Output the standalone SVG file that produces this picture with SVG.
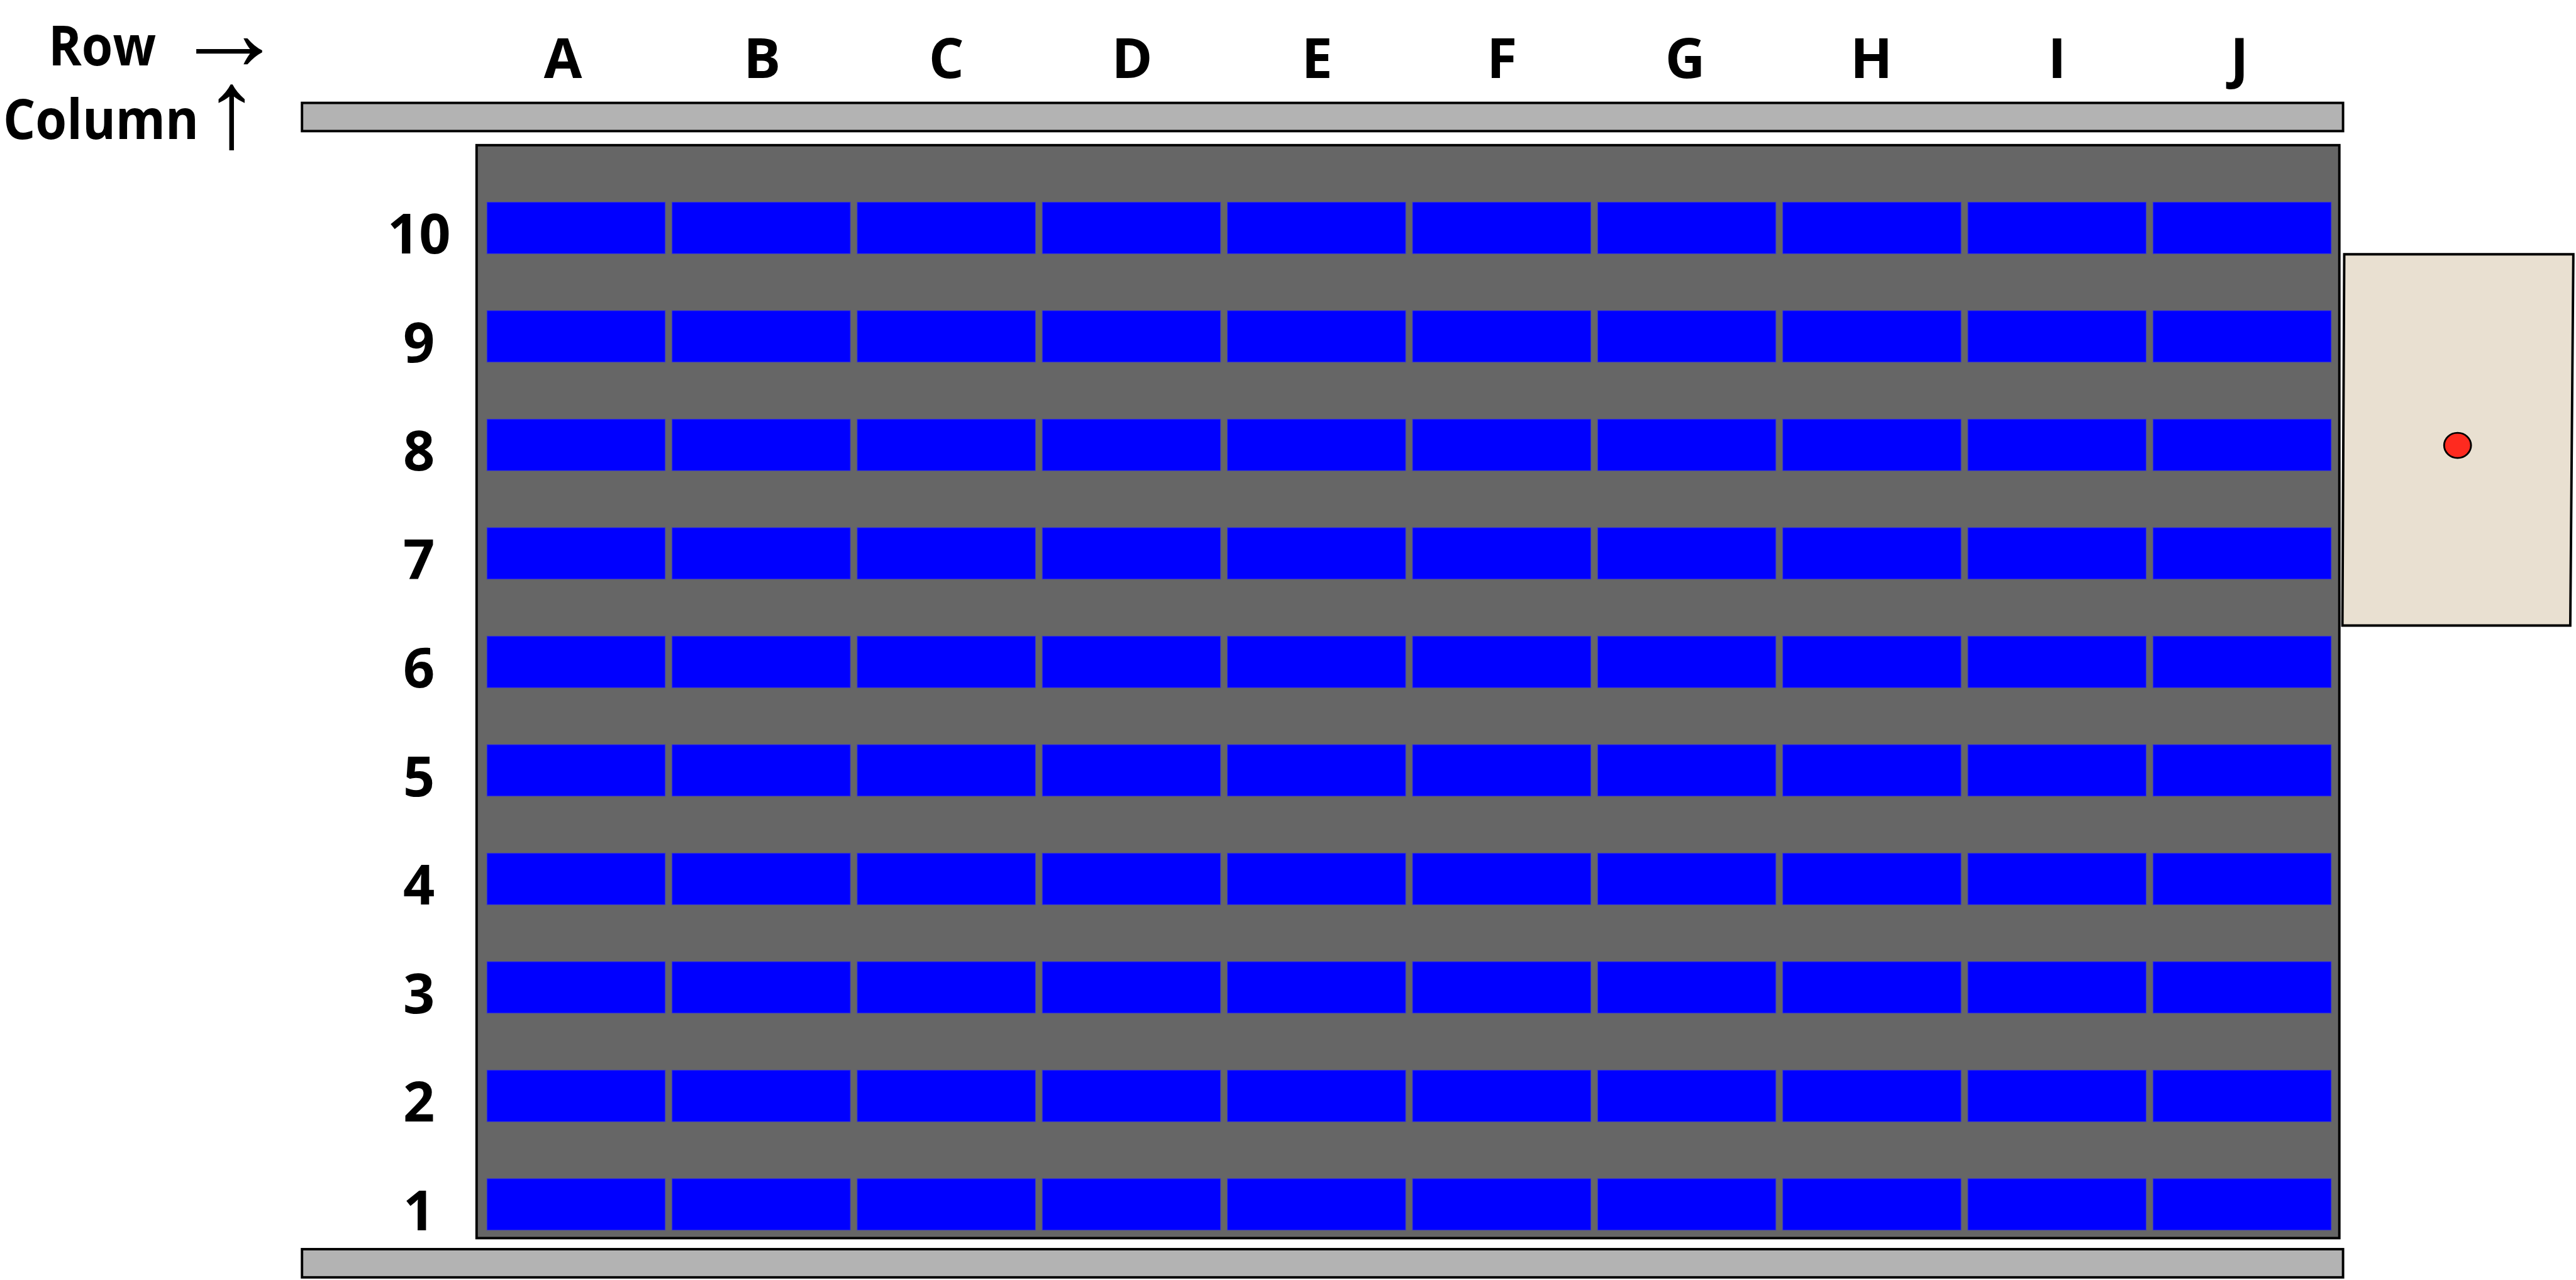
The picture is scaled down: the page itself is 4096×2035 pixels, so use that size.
<svg xmlns="http://www.w3.org/2000/svg" width="4096" height="2035" viewBox="0 0 4096 2035">
<style>
.lbl{font-family:"Open Sans","Liberation Sans",sans-serif;font-weight:700;font-size:88px;fill:#000;text-anchor:middle}
.hdr{font-family:"Open Sans","Liberation Sans",sans-serif;font-weight:700;font-size:88px;fill:#000}
.arr{font-family:"Liberation Sans","DejaVu Sans",sans-serif;font-weight:400;fill:#000;font-size:177px}
.bar{fill:#b3b3b3;stroke:#000;stroke-width:3.9}
.cell{fill:#0000ff;stroke:#3a3acc;stroke-width:1}
</style>
<defs>
<rect id="c" class="cell" width="283.4" height="81.8"/>
<g id="row">
<use href="#c" x="0"/><use href="#c" x="294.34"/><use href="#c" x="588.68"/><use href="#c" x="883.02"/><use href="#c" x="1177.36"/><use href="#c" x="1471.7"/><use href="#c" x="1766.04"/><use href="#c" x="2060.38"/><use href="#c" x="2354.72"/><use href="#c" x="2649.06"/>
</g>
</defs>
<rect width="4096" height="2035" fill="#fff"/>
<g id="legend">
<text class="hdr" x="77" y="104.2" textLength="171" lengthAdjust="spacingAndGlyphs">Row</text>
<text class="arr" x="276" y="111">→</text>
<text class="hdr" x="5" y="221.1" textLength="311" lengthAdjust="spacingAndGlyphs">Column</text>
<text class="arr" x="324" y="234">↑</text>
</g>
<g id="top-bar"><rect class="bar" x="480.2" y="163.6" width="3245.4" height="44.8"/></g>
<g id="bottom-bar"><rect class="bar" x="480.2" y="1986" width="3245.4" height="44.8"/></g>
<g id="column-labels">
<text class="lbl" x="895.1" y="123.7">A</text>
<text class="lbl" x="1211.7" y="123.7">B</text>
<text class="lbl" x="1504.8" y="123.7">C</text>
<text class="lbl" x="1800" y="123.7">D</text>
<text class="lbl" x="2094.1" y="123.7">E</text>
<text class="lbl" x="2388.2" y="123.7">F</text>
<text class="lbl" x="2679.5" y="123.7">G</text>
<text class="lbl" x="2975.6" y="123.7">H</text>
<text class="lbl" x="3270.7" y="123.7">I</text>
<text class="lbl" x="3560.9" y="123.7">J</text>
</g>
<g id="row-labels">
<text class="lbl" x="666.2" y="403.2">10</text>
<text class="lbl" x="666.2" y="575.7">9</text>
<text class="lbl" x="666.2" y="748.2">8</text>
<text class="lbl" x="666.2" y="920.7">7</text>
<text class="lbl" x="666.2" y="1093.2">6</text>
<text class="lbl" x="666.2" y="1265.7">5</text>
<text class="lbl" x="666.2" y="1438.2">4</text>
<text class="lbl" x="666.2" y="1610.7">3</text>
<text class="lbl" x="666.2" y="1783.2">2</text>
<text class="lbl" x="666.2" y="1955.7">1</text>
</g>
<g id="grid">
<rect x="757.8" y="230.8" width="2961.9" height="1737.6" fill="#666666" stroke="#000" stroke-width="3.9"/>
<use href="#row" x="774.3" y="321.4"/>
<use href="#row" x="774.3" y="493.9"/>
<use href="#row" x="774.3" y="666.4"/>
<use href="#row" x="774.3" y="838.9"/>
<use href="#row" x="774.3" y="1011.4"/>
<use href="#row" x="774.3" y="1183.9"/>
<use href="#row" x="774.3" y="1356.4"/>
<use href="#row" x="774.3" y="1528.9"/>
<use href="#row" x="774.3" y="1701.4"/>
<use href="#row" x="774.3" y="1873.9"/>
</g>
<g id="side-panel">
<polygon points="3727.5,404.2 4091.8,404.2 4086.9,994.5 3724.6,994.5" fill="#e9e0d1" stroke="#000" stroke-width="3.9"/>
<ellipse cx="3907.7" cy="708.1" rx="21.4" ry="20" fill="#ff2a1f" stroke="#000" stroke-width="2.9"/>
</g>
</svg>
